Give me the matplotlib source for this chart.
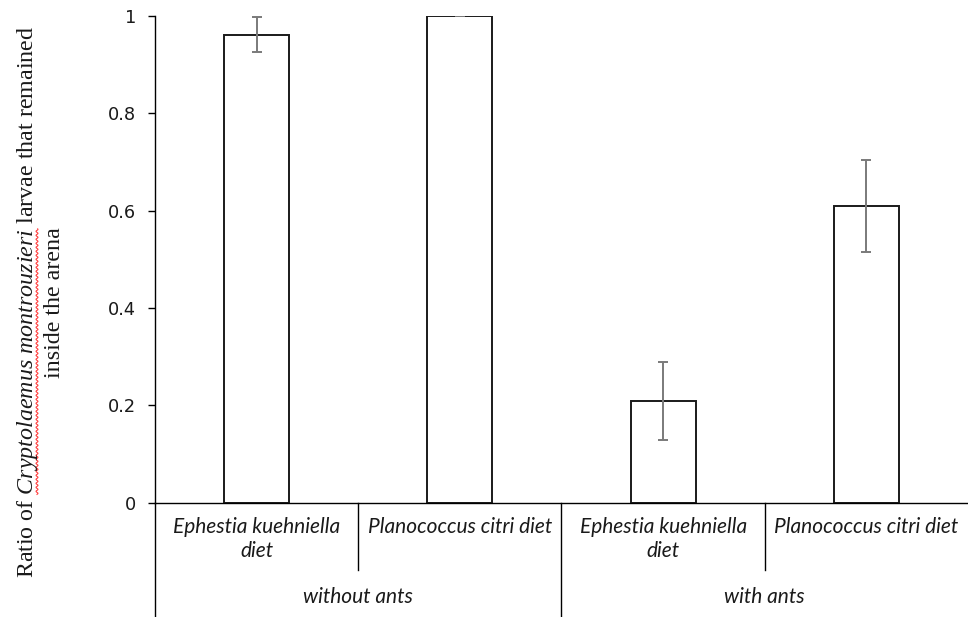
import numpy as np
import matplotlib.pyplot as plt
import matplotlib.transforms as mtransforms

# data
diets = ["Ephestia kuehniella\ndiet", "Planococcus citri diet",
         "Ephestia kuehniella\ndiet", "Planococcus citri diet"]
groups = ["without ants", "with ants"]
ratio = [0.962, 1.0, 0.21, 0.61]
err = [0.036, 0.0, 0.08, 0.094]
yticks = [0, 0.2, 0.4, 0.6, 0.8, 1]
ytick_labels = ["0", "0.2", "0.4", "0.6", "0.8", "1"]

plt.rcParams['mathtext.fontset'] = 'custom'
plt.rcParams['mathtext.rm'] = 'Liberation Serif'
plt.rcParams['mathtext.it'] = 'Liberation Serif:italic'

fig = plt.figure(figsize=(9.68, 6.17), dpi=100)
ax = fig.add_axes([0.160, 0.185, 0.840, 0.789])

x = list(range(len(ratio)))
ax.bar(x, ratio, width=0.32, color="white", edgecolor="#1a1a1a", linewidth=1.4, zorder=2)
ax.errorbar(x, ratio, yerr=err, fmt="none", ecolor="#7a7a7a", elinewidth=1.4,
            capsize=3.6, capthick=1.4, zorder=3)

ax.set_xlim(-0.5, 3.5)
ax.set_ylim(0, 1)
ax.set_yticks(yticks)
ax.set_yticklabels(ytick_labels, fontsize=12.8, family="DejaVu Sans", color="#1a1a1a")
ax.tick_params(axis="y", length=5, width=1, pad=8.5)
ax.set_xticks([])

for s in ["top", "right"]:
    ax.spines[s].set_visible(False)
ax.spines["left"].set_linewidth(1)
ax.spines["bottom"].set_linewidth(1)

trans = mtransforms.blended_transform_factory(ax.transData, ax.transAxes)

# category separators below the axis
short_y = -0.138
long_y = -0.235
for xs in [0.5, 2.5]:
    ax.plot([xs, xs], [0, short_y], color="black", lw=1, transform=trans, clip_on=False)
for xs in [-0.5, 1.5]:
    ax.plot([xs, xs], [0, long_y], color="black", lw=1, transform=trans, clip_on=False)

for xi, lab in zip(x, diets):
    ax.text(xi, -0.03, lab, transform=trans, ha="center", va="top",
            fontsize=15, style="italic", family="Lato", linespacing=1.2,
            color="#1a1a1a")

for gi, g in enumerate(groups):
    ax.text(gi * 2 + 0.5, -0.193, g, transform=trans, ha="center", va="center",
            fontsize=15, style="italic", family="Lato", color="#1a1a1a")

# y label (two lines, species name in italics)
line1 = r"Ratio of $\mathit{Cryptolaemus\ montrouzieri}$ larvae that remained"
lab_fs = 17.3
ylab = fig.text(0.041, 0.51, line1 + "\ninside the arena", rotation=90,
                ha="center", va="center", multialignment="center",
                fontsize=lab_fs, family="Liberation Serif", color="#1a1a1a",
                linespacing=1.25)

# red wavy spell-check underline under the species name
fig.canvas.draw()
r = fig.canvas.get_renderer()
def width_of(s):
    t = fig.text(0, 0, s, fontsize=lab_fs, family="Liberation Serif")
    w = t.get_window_extent(r).width
    t.remove()
    return w
w_full = width_of(line1)
w_pre = width_of(r"Ratio of $\mathit{C}$") - width_of(r"$\mathit{C}$")
w_name = width_of(r"$\mathit{Cryptolaemus\ montrouzieri}$")
H = 617
yc = 0.51 * H
y0 = yc - w_full / 2 + w_pre
yy = np.arange(y0, y0 + w_name, 0.5)
xx = 37 + 1.0 * np.sin((yy - y0) * 2 * np.pi / 4.0)
fig.add_artist(plt.Line2D(xx / 968, yy / H, color="#ff4040", lw=0.8,
                          transform=fig.transFigure))

fig.savefig("out.png", dpi=100)
